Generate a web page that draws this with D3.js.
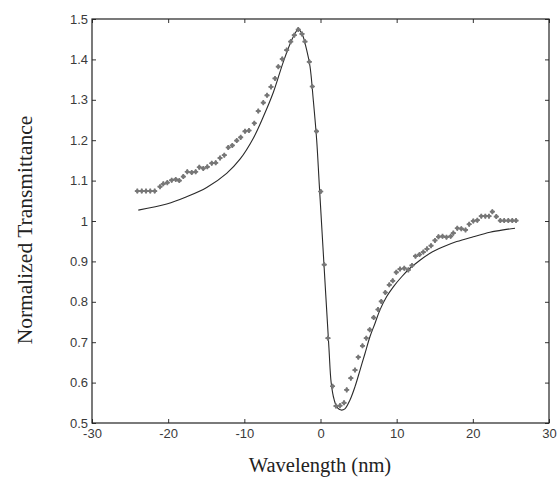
<!DOCTYPE html>
<html>
<head>
<meta charset="utf-8">
<script src="https://cdn.jsdelivr.net/npm/d3@7"></script>
<style>
  body { margin: 0; background: #fff; }
  svg { display: block; }
  .tick text { font-family: "Liberation Sans", Arial, sans-serif; font-size: 13px; fill: #3a3a3a; }
  .label { font-family: "Liberation Serif", "Times New Roman", serif; font-size: 20.5px; fill: #222; }
</style>
</head>
<body>
<div id="chart"></div>
<script>
'use strict';

var width = 557;
var height = 483;
var margin = {top: 19, right: 8, bottom: 60, left: 92};

// measured points (wavelength in nm)
var measX = [
  -24.05, -23.47, -22.91, -22.35, -21.77, -21.07, -20.64, -20.11, -19.54, -19.01,
  -18.54, -18.01, -17.49, -16.91, -16.39, -15.91, -15.39, -14.86, -14.28, -13.76,
  -13.19, -12.63, -12.11, -11.58, -11.00, -10.48, -9.91, -9.39, -8.69, -8.17,
  -7.51, -7.02, -6.50, -5.97, -5.54, -5.02, -4.44, -3.91, -3.44, -2.92,
  -2.43, -2.04, -1.47, -1.08, -0.53, 0.03, 0.49, 0.98, 1.58, 2.03,
  2.56, 3.09, 3.44, 3.98, 4.53, 4.96, 5.51, 6.01, 6.46, 6.98,
  7.55, 7.98, 8.51, 9.03, 9.48, 9.95, 10.44, 11.00, 11.53, 12.01,
  12.47, 13.00, 13.50, 13.98, 14.51, 15.03, 15.49, 16.02, 16.54, 17.09,
  17.44, 17.96, 18.49, 19.04, 19.52, 20.06, 20.59, 21.11, 21.64, 22.12,
  22.56, 23.08, 23.61, 24.12, 24.66, 25.18, 25.67
];
var measY = [
  1.074, 1.074, 1.074, 1.074, 1.074, 1.085, 1.092, 1.095, 1.101, 1.103,
  1.100, 1.110, 1.122, 1.120, 1.122, 1.133, 1.130, 1.134, 1.143, 1.144,
  1.156, 1.163, 1.182, 1.187, 1.199, 1.207, 1.222, 1.224, 1.242, 1.272,
  1.293, 1.311, 1.332, 1.353, 1.382, 1.401, 1.423, 1.444, 1.460, 1.474,
  1.463, 1.444, 1.394, 1.333, 1.222, 1.073, 0.892, 0.710, 0.591, 0.542,
  0.543, 0.550, 0.582, 0.611, 0.631, 0.663, 0.691, 0.710, 0.731, 0.761,
  0.781, 0.801, 0.823, 0.842, 0.852, 0.873, 0.881, 0.883, 0.879, 0.890,
  0.913, 0.917, 0.923, 0.931, 0.939, 0.952, 0.961, 0.962, 0.960, 0.962,
  0.970, 0.982, 0.981, 0.978, 0.992, 1.000, 1.002, 1.012, 1.012, 1.012,
  1.023, 1.011, 1.001, 1.001, 1.001, 1.001, 1.001
];

// fitted curve
var fitX = [
  -23.92, -20.19, -17.57, -14.94, -12.32, -10.57, -8.82, -7.51, -6.20, -4.88,
  -3.78, -3.13, -2.92, -2.40, -1.81, -1.38, -0.95, -0.50, -0.16, 0.46,
  1.11, 1.40, 1.80, 2.20, 2.70, 3.20, 3.87, 4.53, 5.19, 5.84,
  6.50, 7.16, 7.81, 8.69, 9.56, 10.66, 11.75, 13.06, 14.38, 16.12,
  17.88, 20.06, 22.25, 24.00, 25.54
];
var fitY = [
  1.027, 1.042, 1.060, 1.083, 1.118, 1.153, 1.205, 1.258, 1.318, 1.394,
  1.448, 1.471, 1.475, 1.462, 1.423, 1.383, 1.300, 1.200, 1.090, 0.891,
  0.685, 0.600, 0.557, 0.538, 0.532, 0.535, 0.557, 0.590, 0.631, 0.672,
  0.714, 0.747, 0.780, 0.813, 0.837, 0.862, 0.883, 0.903, 0.920, 0.936,
  0.949, 0.961, 0.972, 0.978, 0.982
];

var xTicks = [-30, -20, -10, 0, 10, 20, 30];
var yTicks = [0.5, 0.6, 0.7, 0.8, 0.9, 1, 1.1, 1.2, 1.3, 1.4, 1.5];

var svg = d3.select('#chart').append('svg')
  .attr('width', width)
  .attr('height', height);

var x = d3.scaleLinear().domain([-30, 30]).range([margin.left, width - margin.right]);
var y = d3.scaleLinear().domain([0.5, 1.5]).range([height - margin.bottom, margin.top]);

var fmt = function(d) { return String(d); };

// bottom axis with labels
svg.append('g')
  .attr('transform', 'translate(0,' + y(0.5) + ')')
  .call(d3.axisBottom(x).tickValues(xTicks).tickSize(-4).tickPadding(6).tickFormat(fmt))
  .call(function(g) { g.select('.domain').remove(); });

// left axis with labels
svg.append('g')
  .attr('transform', 'translate(' + x(-30) + ',0)')
  .call(d3.axisLeft(y).tickValues(yTicks).tickSize(-4).tickPadding(4).tickFormat(fmt))
  .call(function(g) { g.select('.domain').remove(); });

// top and right ticks
svg.append('g')
  .attr('transform', 'translate(0,' + y(1.5) + ')')
  .call(d3.axisTop(x).tickValues(xTicks).tickSize(-4).tickFormat(''))
  .call(function(g) { g.select('.domain').remove(); });
svg.append('g')
  .attr('transform', 'translate(' + x(30) + ',0)')
  .call(d3.axisRight(y).tickValues(yTicks).tickSize(-4).tickFormat(''))
  .call(function(g) { g.select('.domain').remove(); });

svg.selectAll('.tick line').attr('stroke', '#333');

// frame
svg.append('rect')
  .attr('x', x(-30))
  .attr('y', y(1.5))
  .attr('width', x(30) - x(-30))
  .attr('height', y(0.5) - y(1.5))
  .attr('fill', 'none')
  .attr('stroke', '#222')
  .attr('stroke-width', 1.2);

// fit line
var fit = fitX.map(function(d, i) { return [d, fitY[i]]; });
var line = d3.line()
  .x(function(d) { return x(d[0]); })
  .y(function(d) { return y(d[1]); })
  .curve(d3.curveCatmullRom.alpha(0.5));

svg.append('path')
  .datum(fit)
  .attr('d', line)
  .attr('fill', 'none')
  .attr('stroke', '#2a2a2a')
  .attr('stroke-width', 1.1);

// measured markers
var meas = measX.map(function(d, i) { return [d, measY[i]]; });
var diamond = d3.symbol().type(d3.symbolSquare).size(12);
var cross = d3.symbol().type(d3.symbolCross).size(14);

var marks = svg.append('g').selectAll('g')
  .data(meas)
  .enter().append('g')
  .attr('transform', function(d) { return 'translate(' + x(d[0]) + ',' + y(d[1]) + ')'; });
marks.append('path').attr('d', diamond).attr('transform', 'rotate(45)').attr('fill', '#6b6b6b');
marks.append('path').attr('d', cross).attr('fill', '#777');

// axis labels
svg.append('text')
  .attr('class', 'label')
  .attr('x', 320)
  .attr('y', 472)
  .attr('text-anchor', 'middle')
  .text('Wavelength (nm)');

svg.append('text')
  .attr('class', 'label')
  .attr('transform', 'translate(32,230) rotate(-90)')
  .attr('text-anchor', 'middle')
  .style('font-size', '21.5px')
  .text('Normalized Transmittance');
</script>
</body>
</html>
